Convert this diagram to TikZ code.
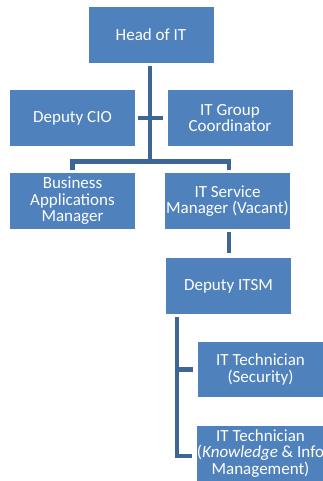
\documentclass[tikz,border=0pt]{standalone}
\usepackage{fontspec}
\setmainfont{Carlito}
\usepackage{xcolor}
\definecolor{boxblue}{HTML}{4F81BD}
\definecolor{lineblue}{HTML}{3E6695}
\tikzset{
  post/.style={draw=none, fill=boxblue, text=white, minimum width=125pt, minimum height=56pt,
    inner sep=0pt, align=center, font=\fontsize{17}{16.5}\selectfont},
  link/.style={draw=lineblue, line width=4.5pt}
}
\begin{document}
\begin{tikzpicture}[x=1pt,y=1pt]
\useasboundingbox (0,0) rectangle (323,-481);

% Top of the chart
\node[post] (head) at (151,-35) {Head of IT};
\node[post] (dcio) at (72.5,-118) {Deputy CIO};
\node[post] (igc) at (230,-118) {IT Group\\Coordinator};

% Managers
\node[post] (bam) at (72.5,-201) {Business\\Applications\\Manager};
\node[post] (itsm) at (227.5,-201) {IT Service\\Manager (Vacant)};

% Service management team
\node[post] (ditsm) at (228.5,-286) {Deputy ITSM};
\node[post, minimum height=55pt] (sec) at (260.5,-369.5) {IT Technician\\(Security)};
\node[post, minimum height=55pt] (kim) at (260.5,-453.5) {IT Technician\\(\textit{Knowledge} \& Info\\Management)};

% Connectors
\draw[link] ([xshift=-1pt,yshift=-3pt]head.south) -- ([xshift=-1pt,yshift=11pt]head.south |- bam.north);
\draw[link] ([xshift=3pt]dcio.east) -- ([xshift=-4pt]igc.west);
\draw[link] ([yshift=3pt]bam.north) -- ++(0,8.5) -| ([xshift=1.5pt,yshift=3pt]itsm.north);
\draw[link] ([xshift=1.5pt,yshift=-3pt]itsm.south) -- ([xshift=0.5pt,yshift=5pt]ditsm.north);
\draw[link] ([xshift=11pt,yshift=-3pt]ditsm.south west) |- ([xshift=-5pt]sec.west);
\draw[link] ([xshift=11pt,yshift=-3pt]ditsm.south west) |- ([xshift=-5pt,yshift=-2.5pt]kim.west);

\end{tikzpicture}
\end{document}
